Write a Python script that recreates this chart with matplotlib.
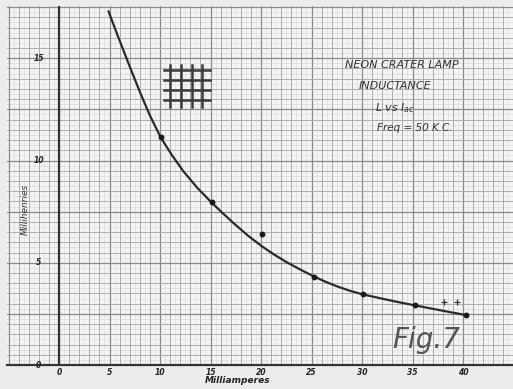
import matplotlib
matplotlib.use("Agg")
import matplotlib.pyplot as plt
import numpy as np
from matplotlib.ticker import MultipleLocator

# ---- data ----
point_ma = [10.1, 15.1, 20.1, 25.2, 30.1, 35.2, 40.3]
point_mh = [11.15, 7.95, 6.40, 4.31, 3.48, 2.93, 2.44]

curve_ma = [4.9, 5.6, 6.4, 7.2, 8.0, 9.0, 10.1, 11.2, 12.3, 13.7, 15.1, 16.2, 17.3,
            18.7, 20.1, 21.3, 22.5, 23.8, 25.2, 26.3, 27.5, 28.8, 30.1, 31.3, 32.5,
            33.8, 35.2, 36.4, 37.5, 38.9, 40.3]
curve_mh = [17.3, 16.38, 15.36, 14.35, 13.36, 12.2, 11.1, 10.25, 9.48, 8.66, 7.95, 7.43, 6.93,
            6.33, 5.80, 5.40, 5.04, 4.69, 4.34, 4.09, 3.85, 3.63, 3.45, 3.32, 3.19,
            3.055, 2.92, 2.805, 2.70, 2.57, 2.44]

plus_ma = [38.1, 39.4]
plus_mh = [3.09, 3.09]

x_tick_values = [0, 5, 10, 15, 20, 25, 30, 35, 40]
x_tick_labels = ["0", "5", "10", "15", "20", "25", "30", "35", "40"]
y_tick_values = [0, 5, 10, 15]
y_tick_labels = ["0", "5", "10", "15"]

title_lines = ["NEON CRATER LAMP", "INDUCTANCE", r"$L$ vs $I_{ac}$", "Freq = 50 K.C."]
fig_label = "Fig.7"
x_label = "Milliamperes"
y_label = "Millihenries"

# decorative grid symbol
sym_v_x = [11.0, 12.08, 13.14, 14.12]
sym_h_y = [14.41, 13.92, 13.43, 12.94]

# ---- figure ----
W, H = 513, 389
fig = plt.figure(figsize=(W / 100, H / 100), dpi=100, facecolor="#ececec")
left_px, right_px, top_px, bot_px = 7, 513, 6, 365
ax = fig.add_axes([left_px / W, (H - bot_px) / H, (right_px - left_px) / W, (bot_px - top_px) / H])
ax.set_facecolor("#f4f4f4")

x0_px, xscale = 59.0, 10.1
y0_px, yscale = 365.0, 20.45
xmin, xmax = (left_px - x0_px) / xscale, (right_px - x0_px) / xscale
ymax = (y0_px - top_px) / yscale
ax.set_xlim(xmin, xmax)
ax.set_ylim(0, ymax)

# finest paper rulings
for xv in np.arange(-5.5, xmax, 1.0):
    ax.axvline(xv, color="#dedede", lw=0.5, zorder=0.5)
for yv in np.arange(0.25, ymax, 0.5):
    ax.axhline(yv, color="#dedede", lw=0.5, zorder=0.5)

ax.xaxis.set_major_locator(MultipleLocator(5))
ax.xaxis.set_minor_locator(MultipleLocator(1))
ax.yaxis.set_major_locator(MultipleLocator(2.5))
ax.yaxis.set_minor_locator(MultipleLocator(0.5))
ax.grid(which="minor", color="#a8a8a8", lw=0.65)
ax.grid(which="major", color="#8a8a8a", lw=0.9)
ax.tick_params(which="both", length=0, labelbottom=False, labelleft=False)
for s in ax.spines.values():
    s.set_visible(False)
ax.spines["bottom"].set_visible(True)
ax.spines["bottom"].set_color("#333333")
ax.spines["bottom"].set_linewidth(1.6)
ax.axvline(0, color="#333333", lw=1.6)
ax.set_axisbelow(True)

# curve and points
ax.plot(curve_ma, curve_mh, color="#2a2a2a", lw=1.6, solid_capstyle="round",
        solid_joinstyle="round")
ax.plot(point_ma, point_mh, "o", color="#1a1a1a", ms=3.2)
ax.plot(plus_ma, plus_mh, "+", color="#333333", ms=5, mew=0.9)

# symbol
xs0, xs1 = 10.4, 14.95
ys0, ys1 = 12.6, 14.66
for xv in sym_v_x:
    ax.plot([xv, xv], [ys0, ys1], color="#3a3a3a", lw=1.8)
for yv in sym_h_y:
    ax.plot([xs0, xs1], [yv, yv], color="#3a3a3a", lw=1.8)

# tick labels
tfont = dict(fontsize=5.5, fontweight="bold", style="italic", color="#222222",
             ha="center", va="center")
for v, lab in zip(x_tick_values, x_tick_labels):
    ax.text(v, -0.38, lab, clip_on=False, **tfont)
for v, lab in zip(y_tick_values, y_tick_labels):
    ax.text(-2.0, v, lab, clip_on=False, **tfont)

# axis labels
ax.text(17.7, -0.78, x_label, fontsize=6.5, fontweight="bold", style="italic",
        color="#222222", ha="center", va="center", clip_on=False)
ax.text(-3.35, 7.6, y_label, fontsize=6.5, style="italic", rotation=90,
        color="#333333", ha="center", va="center")

# title block
tkw = dict(style="italic", color="#333333", ha="center", va="center", fontsize=8)
ax.text(33.9, 14.66, title_lines[0], **tkw)
ax.text(33.3, 13.62, title_lines[1], **tkw)
ax.text(33.3, 12.58, title_lines[2], **tkw)
ax.text(35.2, 11.57, title_lines[3], **dict(tkw, fontsize=7.5))

ax.text(36.4, 1.2, fig_label, fontsize=20, style="italic", color="#555555",
        ha="center", va="center")

fig.savefig("out.png", dpi=100, facecolor=fig.get_facecolor())
